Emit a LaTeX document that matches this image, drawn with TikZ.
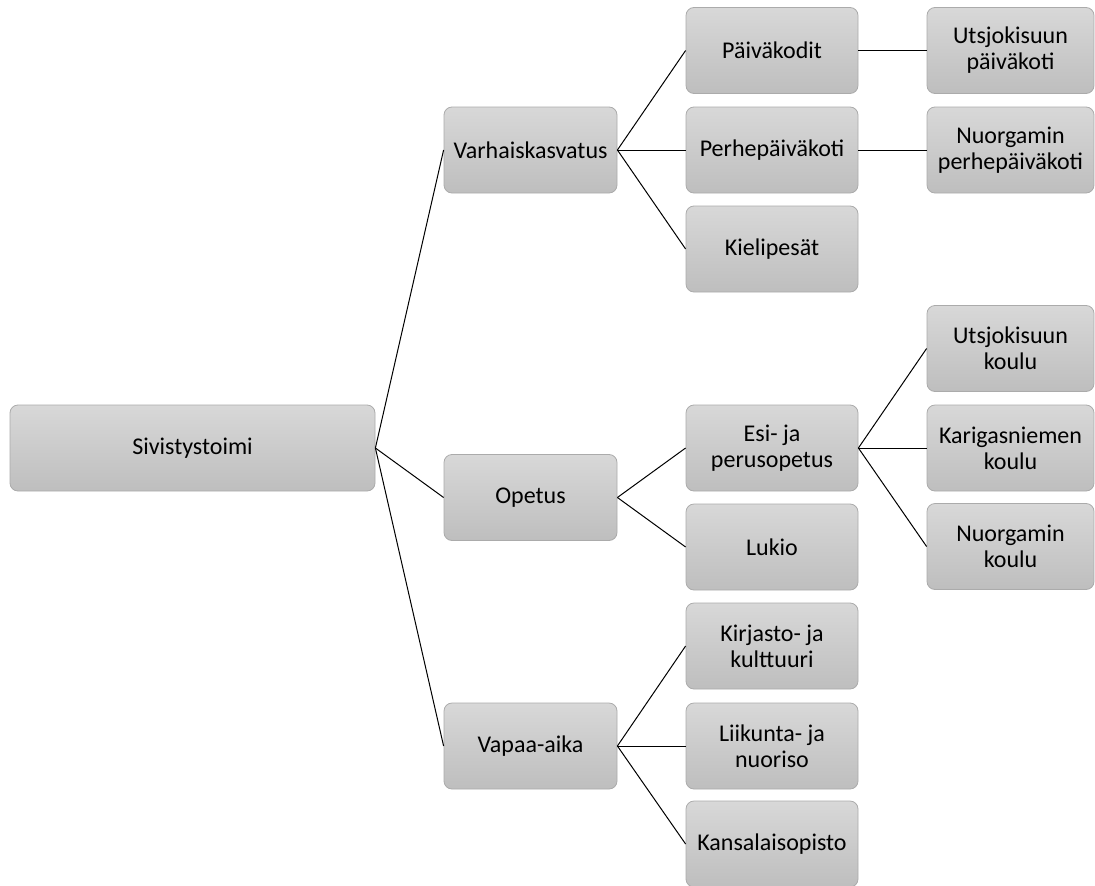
\documentclass[tikz,border=0pt]{standalone}
\usepackage{fontspec}
\setmainfont{Carlito}
\definecolor{boxtop}{HTML}{D8D8D8}
\definecolor{boxbot}{HTML}{BEBEBE}
\definecolor{boxline}{HTML}{ABABAB}
\begin{document}
\begin{tikzpicture}[x=1pt,y=-1pt,
  orgbox/.style={rectangle, rounded corners=8pt, draw=boxline, line width=0.8pt,
    top color=boxtop, bottom color=boxbot, minimum height=86pt, inner sep=1pt,
    align=center, font=\fontsize{24}{26}\selectfont, text=black},
  lvlzero/.style={orgbox, minimum width=365pt},
  lvlone/.style={orgbox, minimum width=173pt},
  lvltwo/.style={orgbox, minimum width=172pt},
  lvlthree/.style={orgbox, minimum width=167pt},
  link/.style={draw=black, line width=1pt}]
\useasboundingbox (0,0) rectangle (1095,886);
\node[lvlzero] (root) at (192.5,448) {Sivistystoimi};
\node[lvlone] (varh) at (530.5,150) {Varhaiskasvatus};
\node[lvlone] (opet) at (530.5,497.5) {Opetus};
\node[lvlone] (vapa) at (530.5,746) {Vapaa-aika};
\node[lvltwo] (paiv) at (772,50.5) {Päiväkodit};
\node[lvltwo] (perh) at (772,150) {Perhepäiväkoti};
\node[lvltwo] (kiel) at (772,249) {Kielipesät};
\node[lvltwo] (esip) at (772,448) {Esi- ja\\perusopetus};
\node[lvltwo] (luki) at (772,547) {Lukio};
\node[lvltwo] (kirj) at (772,646) {Kirjasto- ja\\kulttuuri};
\node[lvltwo] (liik) at (772,746) {Liikunta- ja\\nuoriso};
\node[lvltwo] (kans) at (772,844) {Kansalaisopisto};
\node[lvlthree] (utpk) at (1010.5,50.5) {Utsjokisuun\\päiväkoti};
\node[lvlthree] (nupp) at (1010.5,150) {Nuorgamin\\perhepäiväkoti};
\node[lvlthree] (utko) at (1010.5,348.5) {Utsjokisuun\\koulu};
\node[lvlthree] (kako) at (1010.5,448) {Karigasniemen\\koulu};
\node[lvlthree] (nuko) at (1010.5,546.5) {Nuorgamin\\koulu};
\draw[link] (root.east) -- (varh.west);
\draw[link] (root.east) -- (opet.west);
\draw[link] (root.east) -- (vapa.west);
\draw[link] (varh.east) -- (paiv.west);
\draw[link] (varh.east) -- (perh.west);
\draw[link] (varh.east) -- (kiel.west);
\draw[link] (opet.east) -- (esip.west);
\draw[link] (opet.east) -- (luki.west);
\draw[link] (vapa.east) -- (kirj.west);
\draw[link] (vapa.east) -- (liik.west);
\draw[link] (vapa.east) -- (kans.west);
\draw[link] (paiv.east) -- (utpk.west);
\draw[link] (perh.east) -- (nupp.west);
\draw[link] (esip.east) -- (utko.west);
\draw[link] (esip.east) -- (kako.west);
\draw[link] (esip.east) -- (nuko.west);
\end{tikzpicture}
\end{document}
